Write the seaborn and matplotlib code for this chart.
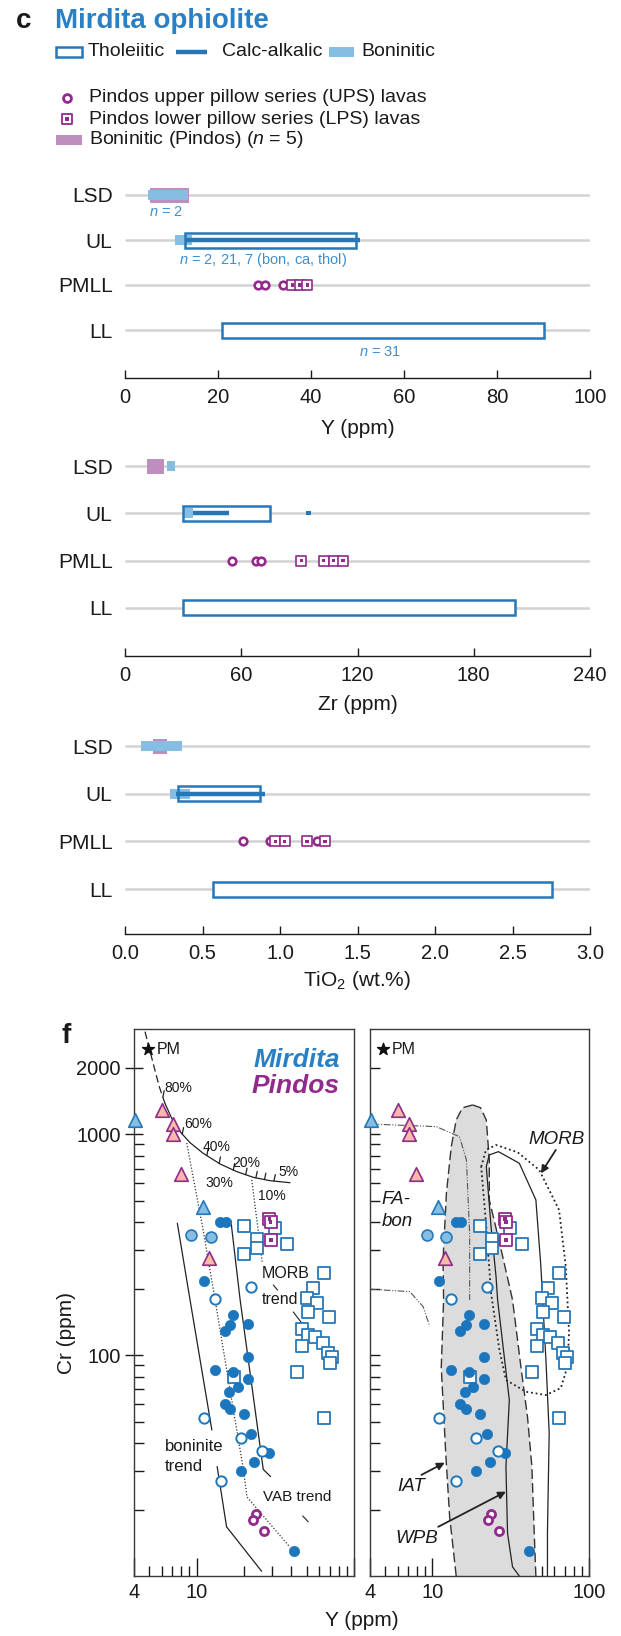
import matplotlib
matplotlib.use("Agg")
import numpy as np
import pandas as pd
import matplotlib.pyplot as plt
import seaborn as sns
from matplotlib.patches import Rectangle
from matplotlib.ticker import FixedLocator, FixedFormatter, NullFormatter

sns.set_theme(style="ticks")
plt.rcParams["font.family"] = ["Liberation Sans", "DejaVu Sans"]
plt.rcParams["mathtext.fontset"] = "custom"
plt.rcParams["mathtext.rm"] = "Liberation Sans"
plt.rcParams["mathtext.it"] = "Liberation Sans:italic"
plt.rcParams["mathtext.bf"] = "Liberation Sans:bold"

# ------------------------------------------------------------------ data
units = ["LSD", "UL", "PMLL", "LL"]

# Y (ppm): (min, max) per unit
Y_thol = {"UL": (13.0, 49.6), "LL": (20.8, 90.2)}
Y_calc = {"UL": (13.0, 50.5)}
Y_bon = {"LSD": (5.0, 13.6), "UL": (10.8, 14.4)}
Y_bon_pindos = {"LSD": (5.4, 13.8)}
Y_ups = [28.5, 30.2, 33.9]
Y_lps = [36.0, 37.6, 39.2]

# Zr (ppm)
Zr_thol = {"UL": (30.0, 74.8), "LL": (30.0, 201.5)}
Zr_calc = {"UL": (35.0, 53.5)}
Zr_calc_pts = [94.8]
Zr_bon = {"LSD": (21.7, 25.8), "UL": (29.7, 35.0)}
Zr_bon_pindos = {"LSD": (11.2, 19.9)}
Zr_ups = [55.3, 67.4, 70.2]
Zr_lps = [91.0, 102.5, 107.7, 112.5]

# TiO2 (wt.%)
Ti_thol = {"UL": (0.34, 0.87), "LL": (0.57, 2.755)}
Ti_calc = {"UL": (0.33, 0.905)}
Ti_bon = {"LSD": (0.105, 0.37), "UL": (0.29, 0.42)}
Ti_bon_pindos = {"LSD": (0.18, 0.27)}
Ti_ups = [0.76, 0.935, 1.24]
Ti_lps = [0.97, 1.03, 1.175, 1.29]

# Cr vs Y (ppm)
mir_tri_Y = [4.06, 10.9]
mir_tri_Cr = [1160, 470]
pin_tri_Y = [6.0, 7.05, 7.1, 7.9, 12.0]
pin_tri_Cr = [1290, 1114, 1004, 662, 276]
mir_light_Y = [9.2, 12.3]
mir_light_Cr = [350, 344]
mir_dark_Y = [14.1, 15.3, 11.1, 17.1, 16.3, 15.1, 21.3, 21.3, 13.1, 17.1, 21.3,
              18.2, 16.1, 15.1, 16.3, 20.1, 22.2, 28.9, 23.2, 19.1, 41.7]
mir_dark_Cr = [400, 402, 217, 152, 137, 129, 138, 98, 86, 84, 78,
               71.5, 68, 60, 57, 54, 44, 36, 33, 30, 13]
mir_open_Y = [22.2, 13.1, 11.1, 19.1, 26.1, 14.2]
mir_open_Cr = [203, 179, 52, 42, 37, 27]
mir_sq_Y = [20.1, 24.1, 24.1, 20.1, 31.5, 37.4, 64.7, 54.6, 50.0, 58.4, 50.8, 69.4,
            46.5, 51.2, 56.5, 63.2, 46.5, 68.6, 72.1, 70.4, 43.2, 64.7, 17.3]
mir_sq_Cr = [386, 335, 305, 286, 378, 318, 236, 202, 181, 172, 157, 149,
             132, 123, 121, 113, 110, 102, 98, 92, 84, 52, 80]
pin_ups_Y = [23.8, 22.7, 26.8]
pin_ups_Cr = [19.0, 17.9, 16.0]
pin_lps_Y = [29.0, 29.5, 29.6]
pin_lps_Cr = [415, 400, 333]
pm_Y, pm_Cr = 4.93, 2430

# melting curve from PM with % melt labels and tick marks
melt_Y = [4.70, 5.00, 5.36, 5.79, 6.29, 6.94, 7.84, 9.08, 11.0, 14.1, 18.0, 22.9, 29.2, 39.2]
melt_Cr = [2918, 2454, 2026, 1644, 1383, 1183, 1029, 917, 821, 734, 678, 639, 617, 604]
melt_tick_Y = [6.1, 8.1, 11.6, 13.9, 17.1, 20.5, 23.8, 27.0, 31.0]
melt_lbl = ["80%", "60%", "40%", "20%", "5%", "30%", "10%"]
melt_lbl_Y = [7.7, 10.2, 13.4, 20.6, 38.1, 13.9, 30.1]
melt_lbl_Cr = [1623, 1114, 877, 742, 676, 602, 526]

# trends
vab_Y = [8.65, 11.0, 13.1, 16.3, 19.7, 20.9, 39.2]
vab_Cr = [914, 369, 178, 69.6, 31.2, 22.8, 13.5]
morbt_Y = [22.4, 26.1]
morbt_Cr = [622, 264]
bon_left1_Y = [7.54, 9.08, 12.5]
bon_left1_Cr = [396, 178, 45.8]
bon_left2_Y = [13.5, 15.5, 25.9]
bon_left2_Cr = [31.3, 16.7, 10.5]
bon_right_Y = [16.5, 18.9, 26.5, 29.5]
bon_right_Cr = [407, 178, 30.4, 28.2]

# discrimination fields
iat_Y = [18.1, 20.3, 22.1, 23.1, 23.1, 27.5, 32.5, 36.8, 40.5, 43.2, 44.7, 45.8,
         14.2, 12.9, 12.2, 11.4, 11.8, 11.7, 12.3, 13.2, 14.2, 15.6]
iat_Cr = [1359, 1320, 1162, 766, 505, 300, 178, 88, 52.5, 31.2, 15.7, 10,
          10, 18.5, 35, 88, 178, 270, 543, 877, 1162, 1320]
wpb_Y = [35.9, 32.5, 30.2, 29.5, 31.0, 26.1, 25.5, 23.7, 22.1, 23.1, 26.4, 35.9,
         45.8, 49.3, 53.1, 55.7, 54.3, 54.3]
wpb_Cr = [10, 11.0, 15.6, 31.3, 62.7, 178, 227, 382, 714, 807, 835, 740,
          505, 252, 95.1, 44.4, 15.7, 10]
morb_Y = [20.5, 22.0, 25.5, 35.0, 48.1, 64.4, 71.1, 74.6, 72.8, 66.1, 53.1, 39.6,
          29.5, 26.8, 23.7, 22.1, 20.5]
morb_Cr = [714, 850, 895, 830, 690, 455, 252, 126, 88.7, 71.0, 66.0, 68.3,
           77.2, 105.6, 191, 382, 714]
fabon1_Y = [4.0, 10.6, 14.9, 16.5, 17.3, 17.3]
fabon1_Cr = [1114, 1084, 976, 766, 356, 178]
fabon2_Y = [4.0, 7.18, 8.73, 9.62]
fabon2_Cr = [199, 194, 166, 135]

# ------------------------------------------------------------------ style
BLUE = "#2677B8"
LBLUE = "#86BDE2"
TBLUE = "#2A80C4"
NBLUE = "#3F8FCF"
PURPLE = "#922A8C"
LPURPLE = "#BE8EBE"
SALMON = "#F5BBA6"
DOT = "#1C76BD"
INK = "#1A1A1A"

W, H = 621, 1636
fig = plt.figure(figsize=(W / 100, H / 100), dpi=100)


def px_rect(x0, y0, x1, y1):
    return [x0 / W, 1 - y1 / H, (x1 - x0) / W, (y1 - y0) / H]


# ------------------------------------------------------------------ header / key
hax = fig.add_axes([0, 1 - 170 / H, 1, 170 / H])
hax.set_xlim(0, W)
hax.set_ylim(170, 0)
hax.axis("off")
hax.text(16, 28, "c", fontsize=20, fontweight="bold", color=INK, va="baseline")
hax.text(55, 28, "Mirdita ophiolite", fontsize=20, fontweight="bold", color=TBLUE, va="baseline")
hax.add_patch(Rectangle((56, 47), 26, 10, facecolor="white", edgecolor=BLUE, lw=1.8))
hax.text(88, 52, "Tholeiitic", fontsize=14, color=INK, va="center")
hax.plot([176, 207], [52, 52], color=BLUE, lw=3.2, solid_capstyle="butt")
hax.text(222, 52, "Calc-alkalic", fontsize=14, color=INK, va="center")
hax.add_patch(Rectangle((329, 47), 25, 10, facecolor=LBLUE, edgecolor="none"))
hax.text(361, 52, "Boninitic", fontsize=14, color=INK, va="center")
hax.scatter([67], [98], s=32, marker="o", facecolor="white", edgecolor=PURPLE, linewidth=2.0)
hax.text(89, 98, "Pindos upper pillow series (UPS) lavas", fontsize=14, color=INK, va="center")
hax.scatter([67], [119], s=60, marker="s", facecolor="white", edgecolor=PURPLE, linewidth=1.3)
hax.scatter([67], [119], s=7, marker="s", facecolor=PURPLE, edgecolor="none")
hax.text(89, 119, "Pindos lower pillow series (LPS) lavas", fontsize=14, color=INK, va="center")
hax.add_patch(Rectangle((56, 135), 26, 10, facecolor=LPURPLE, edgecolor="none"))
hax.text(89, 140, "Boninitic (Pindos) ($n$ = 5)", fontsize=14, color=INK, va="center")


# ------------------------------------------------------------------ range panels
def range_panel(top, row0, step, spine, xmax, ticks, ticklabels, xlabel, xlabel_y,
                thol, calc, bon, bonp, ups, lps, calc_pts=(), notes=()):
    ax = fig.add_axes(px_rect(125, top, 590, spine))
    ax.set_xlim(0, xmax)
    ax.set_ylim((spine - row0) / step, (top - row0) / step)
    pos = {u: i for i, u in enumerate(units)}
    ax.hlines(range(len(units)), 0, xmax, color="#D2D2D2", lw=1.8, zorder=1)
    hb, hs = 15 / step, 10 / step
    for u, (lo, hi) in thol.items():
        ax.barh(pos[u], hi - lo, left=lo, height=hb, color="white", lw=0, zorder=2)
    for u, (lo, hi) in bonp.items():
        ax.barh(pos[u], hi - lo, left=lo, height=hb, color=LPURPLE, lw=0, zorder=2.5)
    for u, (lo, hi) in bon.items():
        ax.barh(pos[u], hi - lo, left=lo, height=hs, color=LBLUE, lw=0, zorder=3)
    for u, (lo, hi) in thol.items():
        ax.barh(pos[u], hi - lo, left=lo, height=hb, facecolor="none",
                edgecolor=BLUE, lw=1.8, zorder=4)
    for u, (lo, hi) in calc.items():
        ax.hlines(pos[u], lo, hi, color=BLUE, lw=3.2, zorder=5)
    if len(calc_pts):
        sns.scatterplot(x=list(calc_pts), y=[pos["UL"]] * len(calc_pts), ax=ax, marker="s",
                        s=10, color=BLUE, edgecolor="none", legend=False, zorder=5)
    sns.scatterplot(x=ups, y=[pos["PMLL"]] * len(ups), ax=ax, marker="o", s=30,
                    color="white", edgecolor=PURPLE, linewidth=1.9, legend=False, zorder=6)
    sns.scatterplot(x=lps, y=[pos["PMLL"]] * len(lps), ax=ax, marker="s", s=55,
                    color="white", edgecolor=PURPLE, linewidth=1.2, legend=False, zorder=6)
    sns.scatterplot(x=lps, y=[pos["PMLL"]] * len(lps), ax=ax, marker="s", s=6,
                    color=PURPLE, edgecolor="none", legend=False, zorder=7)
    for (xv, yv, txt) in notes:
        ax.text(xv, yv, txt, fontsize=10.5, color=NBLUE, ha="center", va="center")
    for s in ("top", "right", "left"):
        ax.spines[s].set_visible(False)
    ax.spines["bottom"].set_color(INK)
    ax.spines["bottom"].set_linewidth(1.0)
    ax.set_xticks(ticks)
    ax.set_xticklabels(ticklabels)
    ax.set_yticks(range(len(units)))
    ax.set_yticklabels(units)
    ax.tick_params(axis="x", direction="in", length=6, width=1.0, color=INK,
                   labelsize=14.5, labelcolor=INK, pad=7)
    ax.tick_params(axis="y", length=0, labelsize=15, labelcolor=INK, pad=9)
    ax.set_xlabel("")
    ax.set_ylabel("")
    fig.text(357.5 / W, 1 - xlabel_y / H, xlabel, fontsize=15, color=INK, ha="center", va="center")
    return ax


range_panel(160, 195, 45, 378, 100, [0, 20, 40, 60, 80, 100],
            ["0", "20", "40", "60", "80", "100"], "Y (ppm)", 428,
            Y_thol, Y_calc, Y_bon, Y_bon_pindos, Y_ups, Y_lps,
            notes=[(8.8, 0.38, "$n$ = 2"),
                   (29.7, 1.44, "$n$ = 2, 21, 7 (bon, ca, thol)"),
                   (54.8, 3.49, "$n$ = 31")])
range_panel(431, 466, 47.3, 656, 240, [0, 60, 120, 180, 240],
            ["0", "60", "120", "180", "240"], "Zr (ppm)", 704,
            Zr_thol, Zr_calc, Zr_bon, Zr_bon_pindos, Zr_ups, Zr_lps, calc_pts=Zr_calc_pts)
range_panel(711, 746, 47.7, 934, 3.0, [0, 0.5, 1.0, 1.5, 2.0, 2.5, 3.0],
            ["0.0", "0.5", "1.0", "1.5", "2.0", "2.5", "3.0"], "TiO$_2$ (wt.%)", 981,
            Ti_thol, Ti_calc, Ti_bon, Ti_bon_pindos, Ti_ups, Ti_lps)


# ------------------------------------------------------------------ Cr–Y panels
def cr_axes(x0, x1, left_panel):
    ax = fig.add_axes(px_rect(x0, 1029, x1, 1576))
    ax.set_xscale("log")
    ax.set_yscale("log")
    ax.set_xlim(4, 100)
    ax.set_ylim(10, 3000)
    ax.xaxis.set_major_locator(FixedLocator([4, 10, 100]))
    ax.xaxis.set_major_formatter(FixedFormatter(["4", "10", "" if left_panel else "100"]))
    ax.xaxis.set_minor_locator(FixedLocator([5, 6, 7, 8, 9, 20, 30, 40, 50, 60, 70, 80, 90]))
    ax.xaxis.set_minor_formatter(NullFormatter())
    ax.yaxis.set_major_locator(FixedLocator([100, 1000, 2000]))
    ax.yaxis.set_minor_locator(FixedLocator([20, 30, 40, 50, 60, 70, 80, 90,
                                             200, 300, 400, 500, 600, 700, 800, 900]))
    ax.yaxis.set_minor_formatter(NullFormatter())
    if left_panel:
        ax.yaxis.set_major_formatter(FixedFormatter(["100", "1000", "2000"]))
        ax.tick_params(axis="y", which="major", direction="inout", length=13)
    else:
        ax.yaxis.set_major_formatter(NullFormatter())
        ax.tick_params(axis="y", which="major", direction="in", length=7)
    ax.tick_params(axis="y", which="minor", direction="in", length=7, width=1.0, color=INK)
    ax.tick_params(axis="y", which="major", width=1.0, color=INK, labelsize=14.5,
                   labelcolor=INK, pad=3)
    ax.tick_params(axis="x", which="major", direction="in", length=13, width=1.0, color=INK,
                   labelsize=14.5, labelcolor=INK, pad=5)
    ax.tick_params(axis="x", which="minor", direction="in", length=7, width=1.0, color=INK)
    for s in ax.spines.values():
        s.set_color("#3A3A3A")
        s.set_linewidth(1.0)
    return ax


def cr_points(ax):
    kw = dict(ax=ax, legend=False, clip_on=False)
    sns.scatterplot(x=mir_sq_Y, y=mir_sq_Cr, marker="s", s=68, color="white",
                    edgecolor=BLUE, linewidth=1.3, zorder=5, **kw)
    sns.scatterplot(x=pin_lps_Y, y=pin_lps_Cr, marker="s", s=68, color="white",
                    edgecolor=PURPLE, linewidth=1.3, zorder=6, **kw)
    sns.scatterplot(x=pin_lps_Y, y=pin_lps_Cr, marker="s", s=7, color=PURPLE,
                    edgecolor="none", zorder=6.5, **kw)
    sns.scatterplot(x=mir_dark_Y, y=mir_dark_Cr, marker="o", s=55, color=DOT,
                    edgecolor=DOT, linewidth=0.5, zorder=7, **kw)
    sns.scatterplot(x=mir_open_Y, y=mir_open_Cr, marker="o", s=55, color="white",
                    edgecolor=DOT, linewidth=1.4, zorder=7, **kw)
    sns.scatterplot(x=mir_light_Y, y=mir_light_Cr, marker="o", s=62, color=LBLUE,
                    edgecolor=BLUE, linewidth=1.2, zorder=7, **kw)
    sns.scatterplot(x=mir_tri_Y, y=mir_tri_Cr, marker="^", s=95, color=LBLUE,
                    edgecolor=BLUE, linewidth=1.2, zorder=8, **kw)
    sns.scatterplot(x=pin_tri_Y, y=pin_tri_Cr, marker="^", s=95, color=SALMON,
                    edgecolor=PURPLE, linewidth=1.2, zorder=8, **kw)
    sns.scatterplot(x=pin_ups_Y, y=pin_ups_Cr, marker="o", s=34, color="white",
                    edgecolor=PURPLE, linewidth=2.0, zorder=8, **kw)
    ax.set_xlabel("")
    ax.set_ylabel("")


axL = cr_axes(134, 354, True)
axR = cr_axes(370, 589, False)

# left: melting model and trends
axL.plot(melt_Y[:5], melt_Cr[:5], color="#222222", lw=0.9, dashes=(6, 3))
axL.plot(melt_Y[4:], melt_Cr[4:], color="#222222", lw=0.9)
log_curve_x, log_curve_y = np.log10(melt_Y), np.log10(melt_Cr)
for tx in melt_tick_Y:
    cy = 10 ** np.interp(np.log10(tx), log_curve_x, log_curve_y)
    axL.plot([tx, tx * 1.02], [cy, cy * 1.07], color="#222222", lw=0.9)
for lbl, xv, yv in zip(melt_lbl, melt_lbl_Y, melt_lbl_Cr):
    axL.text(xv, yv, lbl, fontsize=10, color=INK, ha="center", va="center")
axL.plot(vab_Y, vab_Cr, color="#333333", lw=0.9, ls=(0, (1, 1.5)))
axL.plot(morbt_Y, morbt_Cr, color="#333333", lw=0.9, ls=(0, (1, 1.5)))
axL.plot(bon_left1_Y, bon_left1_Cr, color="#222222", lw=0.9)
axL.plot(bon_left2_Y, bon_left2_Cr, color="#222222", lw=0.9)
axL.plot(bon_right_Y, bon_right_Cr, color="#222222", lw=0.9)
axL.plot([30.7, 32.7], [208, 197], color="#222222", lw=0.8)
axL.plot([41.1, 46.5], [157, 140], color="#222222", lw=0.8)
axL.plot([47.2, 51.2], [18.7, 17.6], color="#222222", lw=0.8)
axL.text(26.0, 235, "MORB", fontsize=11.5, color=INK, va="center")
axL.text(26.0, 178, "trend", fontsize=11.5, color=INK, va="center")
axL.text(6.29, 38.5, "boninite", fontsize=12, color=INK, va="center")
axL.text(6.29, 31.3, "trend", fontsize=12, color=INK, va="center")
axL.text(26.3, 22.9, "VAB trend", fontsize=11, color=INK, va="center")
axL.text(0.935, 0.943, "Mirdita", transform=axL.transAxes, fontsize=19, fontweight="bold",
         fontstyle="italic", color=TBLUE, ha="right", va="center")
axL.text(0.932, 0.896, "Pindos", transform=axL.transAxes, fontsize=19, fontweight="bold",
         fontstyle="italic", color=PURPLE, ha="right", va="center")
axL.scatter([pm_Y], [pm_Cr], marker="*", s=80, color="#111111", zorder=9)
axL.annotate("PM", (pm_Y, pm_Cr), xytext=(6, 0), textcoords="offset points",
             fontsize=11.5, color=INK, va="center")
cr_points(axL)

# right: discrimination fields
axR.fill(iat_Y, iat_Cr, facecolor="#DCDCDC", edgecolor="none", zorder=1)
axR.plot(iat_Y[:12], iat_Cr[:12], color="#333333", lw=1.0, dashes=(7, 3), zorder=2)
axR.plot(iat_Y[12:] + [iat_Y[0]], iat_Cr[12:] + [iat_Cr[0]], color="#333333", lw=1.0,
         dashes=(7, 3), zorder=2)
axR.plot(wpb_Y, wpb_Cr, color="#222222", lw=0.9, zorder=2)
axR.plot(morb_Y, morb_Cr, color="#222222", lw=1.3, ls=(0, (1, 1.6)), zorder=2)
axR.plot(fabon1_Y, fabon1_Cr, color="#555555", lw=0.8, ls=(0, (6, 1.5, 1, 1.5, 1, 1.5)), zorder=2)
axR.plot(fabon2_Y, fabon2_Cr, color="#555555", lw=0.8, ls=(0, (6, 1.5, 1, 1.5, 1, 1.5)), zorder=2)
arrow = dict(arrowstyle="-|>", color="#222222", lw=1.3, mutation_scale=11, shrinkA=0, shrinkB=0)
axR.annotate("", xy=(49.3, 666), xytext=(61.4, 850), arrowprops=arrow)
axR.annotate("", xy=(12.0, 32.6), xytext=(8.52, 28.7), arrowprops=arrow)
axR.annotate("", xy=(29.5, 24.1), xytext=(10.9, 16.7), arrowprops=arrow)
axR.text(61.7, 943, "MORB", fontsize=13.5, fontstyle="italic", color=INK, ha="center", va="center")
axR.text(4.75, 505, "FA-", fontsize=13.5, fontstyle="italic", color=INK, va="center")
axR.text(4.75, 402, "bon", fontsize=13.5, fontstyle="italic", color=INK, va="center")
axR.text(6.0, 25.4, "IAT", fontsize=13.5, fontstyle="italic", color=INK, va="center")
axR.text(5.77, 14.8, "WPB", fontsize=13.5, fontstyle="italic", color=INK, va="center")
axR.scatter([4.86], [pm_Cr], marker="*", s=80, color="#111111", zorder=9)
axR.annotate("PM", (4.86, pm_Cr), xytext=(6, 0), textcoords="offset points",
             fontsize=11.5, color=INK, va="center")
cr_points(axR)

fig.text(62 / W, 1 - 1036 / H, "f", fontsize=20, fontweight="bold", color=INK, va="center")
fig.text(66 / W, 1 - 1333 / H, "Cr (ppm)", fontsize=15, color=INK, rotation=90,
         ha="center", va="center")
fig.text(362 / W, 1 - 1621 / H, "Y (ppm)", fontsize=15, color=INK, ha="center", va="center")

fig.savefig("out.png", dpi=100)
